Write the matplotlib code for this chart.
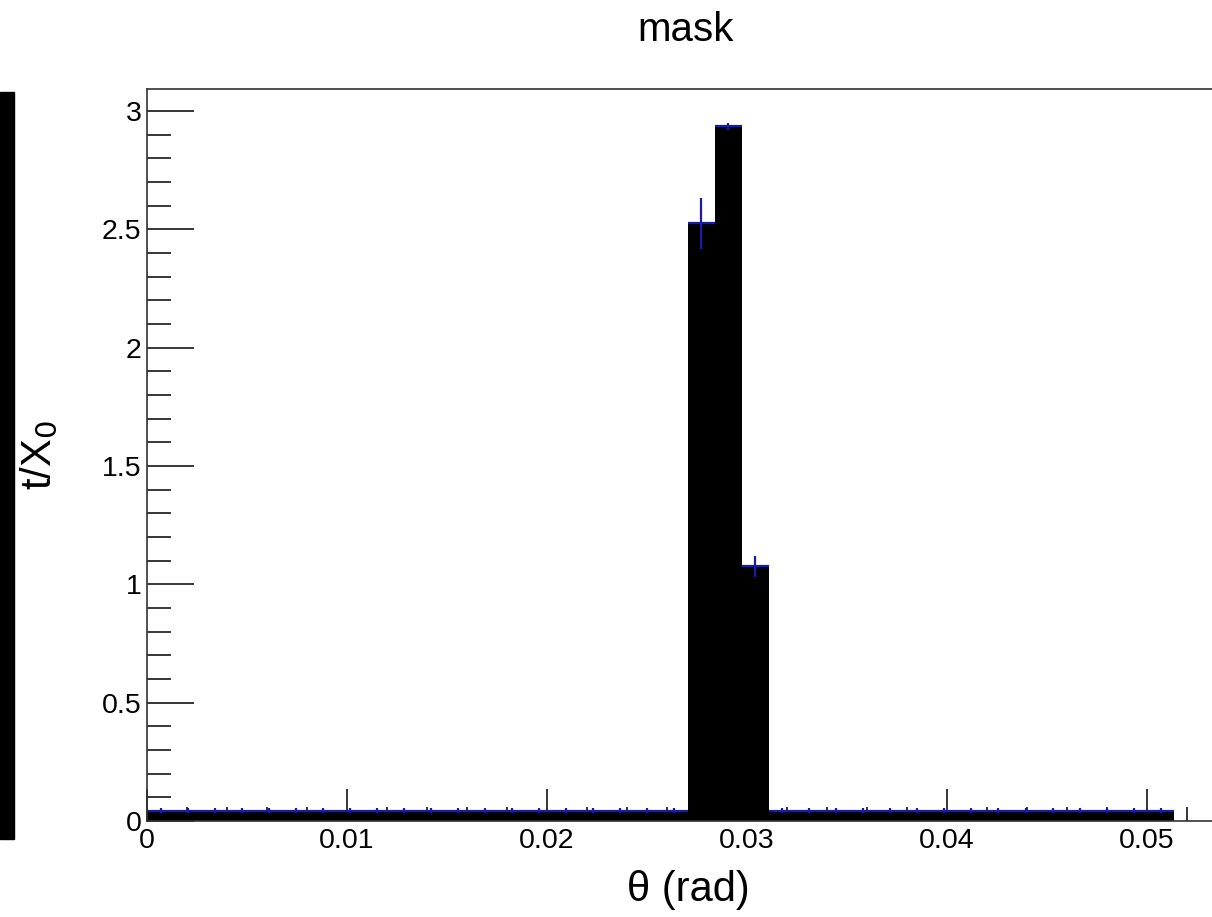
import numpy as np
import matplotlib
matplotlib.use("Agg")
import matplotlib.pyplot as plt
from matplotlib.patches import Rectangle
from matplotlib.ticker import MultipleLocator

plt.rcParams['font.family'] = ['Liberation Sans', 'DejaVu Sans']

# histogram contents (t/X0 per theta bin)
n_bins = 38
theta_max = 0.05136
values = [0.044] * 20 + [2.525, 2.936, 1.077] + [0.044] * 15
errors = [0.01] * 20 + [0.106, 0.015, 0.044] + [0.01] * 15

edges = np.linspace(0, theta_max, n_bins + 1)
centers = 0.5 * (edges[:-1] + edges[1:])
width = edges[1] - edges[0]

fig = plt.figure(figsize=(12.12, 9.17), dpi=100)
ax = fig.add_axes([147 / 1212, 96 / 917, 1090 / 1212, 732 / 917])
ax.set_axisbelow(True)

ax.bar(centers, values, width=width, color='black', linewidth=0, zorder=2)
ax.errorbar(centers, values, xerr=width / 2, yerr=errors, fmt='none',
            ecolor='#1a1aa6', elinewidth=1.6, capsize=0, zorder=3)

ax.set_xlim(0, 0.0545)
ax.set_ylim(0, 3.093)
ax.xaxis.set_major_locator(MultipleLocator(0.01))
ax.xaxis.set_minor_locator(MultipleLocator(0.002))
ax.yaxis.set_major_locator(MultipleLocator(0.5))
ax.yaxis.set_minor_locator(MultipleLocator(0.1))
ax.xaxis.set_major_formatter(plt.FuncFormatter(lambda v, p: '0' if v == 0 else f'{v:g}'))
ax.yaxis.set_major_formatter(plt.FuncFormatter(lambda v, p: f'{v:g}'))

ax.tick_params(axis='both', which='both', direction='in', labelsize=20.5,
               top=False, right=False, width=1.1, color='black')
ax.tick_params(axis='x', which='major', length=23, pad=5)
ax.tick_params(axis='x', which='minor', length=10)
ax.tick_params(axis='y', which='major', length=34, pad=4)
ax.tick_params(axis='y', which='minor', length=17)

for s in ax.spines.values():
    s.set_linewidth(1.2)
    s.set_color('#333333')
ax.spines['right'].set_visible(False)

fig.text(688 / 1212, 1 - 890 / 917, 'θ (rad)', fontsize=30,
         ha='center', va='center')
fig.text(40 / 1212, 1 - 455 / 917, 't/X$_0$', rotation=90, fontsize=30,
         ha='center', va='center')
fig.text(686 / 1212, 1 - 30 / 917, 'mask', fontsize=29, ha='center', va='center')

# black strip at the left edge of the canvas
fig.patches.append(Rectangle((0, 1 - 839 / 917), 14 / 1212, (839 - 92) / 917,
                             transform=fig.transFigure, color='black'))

fig.savefig('out.png', dpi=100)
